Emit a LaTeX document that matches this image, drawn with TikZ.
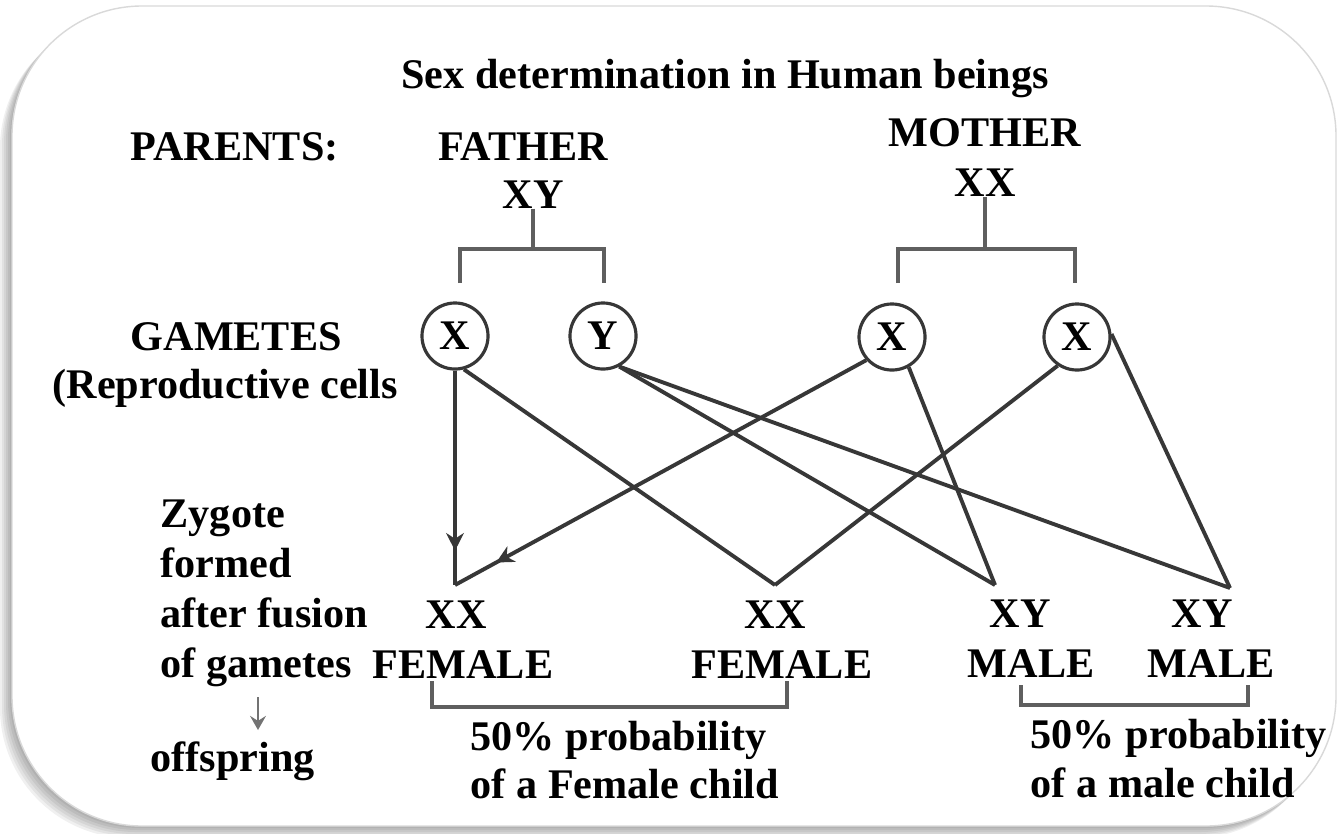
\documentclass[tikz,border=0pt]{standalone}
\usepackage{fontspec}
\setmainfont{Liberation Serif}
\usetikzlibrary{arrows.meta,positioning,decorations.markings}
\definecolor{LineGray}{RGB}{55,55,55}
\definecolor{BrkGray} {RGB}{95,95,95}
\tikzset{
  %% texts
  lbl/.style={inner sep=0pt,anchor=base},
  lblw/.style={inner sep=0pt,anchor=base west},
  %% gamete circles
  gamete/.style={circle,draw=LineGray,line width=0.9pt,
                 minimum size=0.66cm,inner sep=0pt},
  %% lines
  cross/.style={draw=LineGray,line width=1.1pt},
  brk/.style={draw=BrkGray,line width=1.1pt},
  midarr/.style={postaction={decorate},
    decoration={markings,
      mark=at position #1 with {\arrow{Stealth[length=5pt,width=5pt,inset=1.6pt]}}}},
  downarr/.style={-{Stealth[length=4pt,width=4.5pt,inset=1.4pt]},
                  draw=black!55,line width=0.8pt},
}

\begin{document}
\begin{tikzpicture}[x=0.01cm,y=-0.01cm,
    font=\fontsize{12}{14.2}\selectfont\bfseries]
    \useasboundingbox (0,0) rectangle (1337,833);

    %% frame with shadow
    \foreach \k in {2,4,...,12}
      \fill[black,opacity=0.06,rounded corners=1.3cm,shift={(-\k,\k)}]
        (12,6) rectangle (1336,826);
    \filldraw[fill=white,draw=black!15,rounded corners=1.3cm]
      (12,6) rectangle (1336,826);

    %% title and parents
    \node[lbl]  (title)   at (725,88)  {Sex determination in Human beings};
    \node[lblw] (parents) at (130,160) {PARENTS:};
    \node[lbl]  (father)  at (523,160) {FATHER};
    \node[lbl]  (fxy)     at (533,208) {XY};
    \node[lbl]  (mother)  at (985,146) {MOTHER};
    \node[lbl]  (mxx)     at (985,196) {XX};

    %% gametes
    \node[lblw] (gametes) at (130,350) {GAMETES};
    \node[lblw] (repro)   at (52,398)  {(Reproductive cells};
    \node[gamete] (gX1) at (455,336)  {X};
    \node[gamete] (gY)  at (603,336)  {Y};
    \node[gamete] (gX2) at (892,337)  {X};
    \node[gamete] (gX3) at (1077,337) {X};

    %% parent brackets
    \coordinate (fL) at (460,283);
    \coordinate (fR) at (604,283);
    \coordinate (mL) at (898,283);
    \coordinate (mR) at (1075,283);
    \draw[brk] (fxy.south) -- ++(0,41);
    \draw[brk] (fL) -- ++(0,-34) -| (fR);
    \draw[brk] (mxx.south) -- ++(0,53);
    \draw[brk] (mL) -- ++(0,-34) -| (mR);

    %% zygotes
    \coordinate (zA) at (455,585);
    \coordinate (zB) at (775,585);
    \coordinate (zC) at (995,585);
    \coordinate (zD) at (1230,588);

    \draw[cross,midarr=0.84] (gX1) -- (zA);
    \draw[cross,midarr=0.9]  (gX2.-138) -- (zA);
    \draw[cross] (gX1.-75)  -- (zB);
    \draw[cross] (gX3.-124) -- (zB);
    \draw[cross] (gY.-62)   -- (zC);
    \draw[cross] (gX2.-61)  -- (zC);
    \draw[cross] (gY.-62)   -- (zD);
    \draw[cross] (gX3.5)    -- (zD);

    \node[lbl] (oXX1) at (456,628)  {XX};
    \node[lbl] (oF1)  at (463,678)  {FEMALE};
    \node[lbl] (oXX2) at (775,628)  {XX};
    \node[lbl] (oF2)  at (782,678)  {FEMALE};
    \node[lbl] (oXY1) at (1020,627) {XY};
    \node[lbl] (oM1)  at (1031,677) {MALE};
    \node[lbl] (oXY2) at (1202,627) {XY};
    \node[lbl] (oM2)  at (1211,677) {MALE};

    %% offspring brackets
    \coordinate (fbL) at (432,681);
    \coordinate (fbR) at (787,681);
    \coordinate (mbL) at (1021,685);
    \coordinate (mbR) at (1248,685);
    \draw[brk] (fbL) -- ++(0,26) -| (fbR);
    \draw[brk] (mbL) -- ++(0,20) -| (mbR);

    \node[lblw] (fprob)  at (470,750)  {50\% probability};
    \node[lblw] (fchild) at (470,798)  {of a Female child};
    \node[lblw] (mprob)  at (1030,748) {50\% probability};
    \node[lblw] (mchild) at (1030,797) {of a male child};

    %% left column
    \node[lblw,align=left] (zyg) at (160,677)
      {Zygote\\formed\\after fusion\\of gametes};
    \coordinate (dTop) at (258,697);
    \draw[downarr] (dTop) -- ++(0,33);
    \node[lblw] (offs) at (150,771) {offspring};
  \end{tikzpicture}
\end{document}
